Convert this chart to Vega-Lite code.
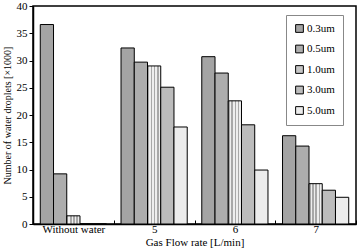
{
  "$schema": "https://vega.github.io/schema/vega-lite/v6.json",
  "width": 357,
  "height": 251,
  "padding": {"left": 2, "top": 0, "right": 0, "bottom": 4},
  "autosize": {"type": "fit", "contains": "padding"},
  "background": "white",
  "config": {
    "font": "Liberation Serif",
    "view": {"stroke": "black", "strokeWidth": 1.5}
  },
  "data": {
    "values": [
      {"rate": "Without water", "size": "0.3um", "count": 36.6},
      {"rate": "Without water", "size": "0.5um", "count": 9.2},
      {"rate": "Without water", "size": "1.0um", "count": 1.5},
      {"rate": "Without water", "size": "3.0um", "count": 0},
      {"rate": "Without water", "size": "5.0um", "count": 0},
      {"rate": "5", "size": "0.3um", "count": 32.3},
      {"rate": "5", "size": "0.5um", "count": 29.7},
      {"rate": "5", "size": "1.0um", "count": 29.0},
      {"rate": "5", "size": "3.0um", "count": 25.1},
      {"rate": "5", "size": "5.0um", "count": 17.8},
      {"rate": "6", "size": "0.3um", "count": 30.7},
      {"rate": "6", "size": "0.5um", "count": 27.7},
      {"rate": "6", "size": "1.0um", "count": 22.6},
      {"rate": "6", "size": "3.0um", "count": 18.2},
      {"rate": "6", "size": "5.0um", "count": 9.9},
      {"rate": "7", "size": "0.3um", "count": 16.2},
      {"rate": "7", "size": "0.5um", "count": 14.3},
      {"rate": "7", "size": "1.0um", "count": 7.4},
      {"rate": "7", "size": "3.0um", "count": 6.2},
      {"rate": "7", "size": "5.0um", "count": 4.9}
    ]
  },
  "mark": {"type": "bar", "stroke": "black", "strokeWidth": 1},
  "encoding": {
    "x": {
      "field": "rate", "type": "nominal", "sort": null,
      "scale": {"paddingInner": 0, "paddingOuter": 0},
      "axis": {
        "title": "Gas Flow rate [L/min]", "labelAngle": 0,
        "labelFont": "Liberation Serif", "labelFontSize": 11, "labelColor": "black",
        "titleFont": "Liberation Serif", "titleFontSize": 11, "titleFontWeight": "normal", "titleColor": "black",
        "titlePadding": 2, "labelPadding": 3,
        "tickBand": "extent", "tickSize": -4, "tickColor": "black",
        "domainColor": "black", "domainWidth": 1.5
      }
    },
    "xOffset": {
      "field": "size", "type": "nominal",
      "scale": {"paddingInner": 0, "paddingOuter": 0.55}
    },
    "y": {
      "field": "count", "type": "quantitative",
      "scale": {"domain": [0, 40]},
      "axis": {
        "title": "Number of water droplets [×1000]", "values": [0, 5, 10, 15, 20, 25, 30, 35, 40],
        "grid": false, "labelFont": "Liberation Serif", "labelFontSize": 11, "labelColor": "black",
        "titleFont": "Liberation Serif", "titleFontSize": 10, "titleFontWeight": "normal", "titleColor": "black",
        "titlePadding": 4, "tickSize": 4, "tickColor": "black", "domainColor": "black", "domainWidth": 1.5
      }
    },
    "fill": {
      "condition": {
        "test": "datum.size === '1.0um'",
        "value": {
          "gradient": "linear", "x1": 0, "x2": 1, "y1": 0, "y2": 0,
          "stops": [
            {"offset": 0, "color": "#a8a8a8"}, {"offset": 0.12, "color": "#a8a8a8"},
            {"offset": 0.12, "color": "#eeeeee"}, {"offset": 0.24, "color": "#eeeeee"},
            {"offset": 0.24, "color": "#a8a8a8"}, {"offset": 0.36, "color": "#a8a8a8"},
            {"offset": 0.36, "color": "#eeeeee"}, {"offset": 0.48, "color": "#eeeeee"},
            {"offset": 0.48, "color": "#a8a8a8"}, {"offset": 0.6, "color": "#a8a8a8"},
            {"offset": 0.6, "color": "#eeeeee"}, {"offset": 0.72, "color": "#eeeeee"},
            {"offset": 0.72, "color": "#a8a8a8"}, {"offset": 0.84, "color": "#a8a8a8"},
            {"offset": 0.84, "color": "#eeeeee"}, {"offset": 1, "color": "#eeeeee"}
          ]
        }
      },
      "field": "size", "type": "nominal",
      "scale": {"range": ["#a4a4a4", "#adadad", "#c6c6c6", "#bcbcbc", "#ececec"]},
      "legend": {
        "title": null, "orient": "none", "legendX": 253, "legendY": 9,
        "symbolType": "square", "symbolSize": 60, "symbolStrokeColor": "black", "symbolStrokeWidth": 1,
        "labelFont": "Liberation Serif", "labelFontSize": 11, "labelColor": "black",
        "rowPadding": 7.5, "padding": 8, "fillColor": "white", "strokeColor": "#888888",
        "labelOffset": 2
      }
    }
  }
}
